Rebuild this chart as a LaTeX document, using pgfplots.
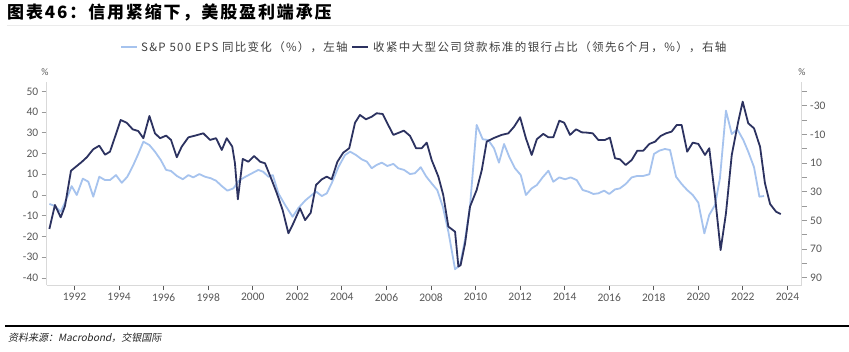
\documentclass[border=0pt]{standalone}
\usepackage{fontspec}
\setmainfont{Carlito}
\newfontfamily\cjk{Noto Sans CJK SC}
\newfontfamily\cjki{Noto Sans CJK SC}[FakeSlant=0.2]
\usepackage{pgfplots}
\pgfplotsset{compat=1.18}
\definecolor{dk}{HTML}{2C3260}
\definecolor{lt}{HTML}{A6C3EE}
\definecolor{axc}{HTML}{D9D9D9}
\definecolor{tkc}{HTML}{595959}
\definecolor{lgc}{HTML}{404040}
\begin{document}
\begin{tikzpicture}[x=1pt,y=1pt]
\path[use as bounding box,fill=white] (0,0) rectangle (849,351);
% title
\node[anchor=west,inner sep=0] at (7,339) {\cjk\bfseries\fontsize{17}{18}\selectfont\addfontfeature{LetterSpace=11}图表46：信用紧缩下，美股盈利端承压};
\draw[color=black!8,line width=0.6pt] (7,326) -- (849,326);
% legend
\draw[lt,line width=2pt] (121,304) -- (137,304);
\node[anchor=west,inner sep=0,text=lgc] at (141,304) {\cjk\fontsize{11.5}{13}\selectfont\addfontfeature{LetterSpace=11}S\&P 500 EPS 同比变化（\%），左轴};
\draw[dk,line width=2pt] (352,304) -- (368,304);
\node[anchor=west,inner sep=0,text=lgc] at (373,304) {\cjk\fontsize{11.5}{13}\selectfont\addfontfeature{LetterSpace=12}收紧中大型公司贷款标准的银行占比（领先6个月，\%），右轴};
% unit labels
\node[text=tkc,inner sep=0] at (45,279) {\fontsize{10}{11}\selectfont\%};
\node[text=tkc,inner sep=0] at (802,279) {\fontsize{10}{11}\selectfont\%};
% bottom rule and source
\draw[black,line width=1.2pt] (5,25) -- (849,25);
\node[anchor=west,inner sep=0,text=black!85] at (8,13) {\cjki\fontsize{10}{11}\selectfont 资料来源：Macrobond，交银国际};

\begin{axis}[
  at={(46.7pt,66pt)}, anchor=south west,
  scale only axis, width=755pt, height=203pt,
  xmin=1990.75, xmax=2024.64,
  ymin=-43.4, ymax=54.5,
  axis x line=bottom, axis y line=left,
  axis line style={axc,line width=0.8pt,-},
  xtick={1992,1994,...,2024},
  ytick={-40,-30,...,50},
  tick align=outside,
  major tick length=5pt,
  xtick style={tkc,line width=0.8pt},
  ytick style={black!40,line width=0.8pt},
  ticklabel style={font=\fontsize{11.5}{12}\selectfont,text=tkc},
  /pgf/number format/1000 sep={},
  /pgf/number format/assume math mode=true,
  clip=false,
]
\addplot[lt,line width=1.8pt,line join=round] coordinates {
(1990.87,-4.3)(1991.12,-5.3)(1991.38,-8.1)(1991.62,-2.4)(1991.87,4.3)(1992.10,0.0)
(1992.37,7.9)(1992.62,6.4)(1992.84,-0.8)(1993.11,8.8)(1993.37,7.2)(1993.59,7.2)
(1993.86,9.6)(1994.12,5.9)(1994.37,8.8)(1994.64,14.5)(1994.86,19.8)(1995.09,25.7)
(1995.36,24.1)(1995.61,20.9)(1995.87,16.9)(1996.11,12.1)(1996.33,11.6)(1996.59,9.2)
(1996.86,7.6)(1997.11,9.6)(1997.33,8.5)(1997.60,10.1)(1997.86,8.8)(1998.11,8.1)
(1998.35,6.9)(1998.61,4.3)(1998.86,2.1)(1999.13,3.2)(1999.38,6.9)(1999.62,8.5)
(1999.88,10.0)(2000.25,12.1)(2000.47,11.2)(2000.70,8.8)(2000.90,9.6)(2001.15,0.8)
(2001.45,-4.8)(2001.79,-10.5)(2002.04,-6.4)(2002.35,-2.7)(2002.65,0.0)(2002.85,1.6)
(2003.10,-0.5)(2003.32,0.8)(2003.54,5.6)(2003.84,13.4)(2004.14,19.3)(2004.37,20.9)
(2004.63,19.3)(2004.89,17.2)(2005.12,16.1)(2005.34,12.9)(2005.56,14.5)(2005.79,15.6)
(2006.04,14.0)(2006.31,15.0)(2006.53,12.9)(2006.79,12.1)(2007.06,10.1)(2007.28,10.5)
(2007.54,13.4)(2007.78,9.0)(2008.03,5.6)(2008.28,2.4)(2008.53,-5.6)(2008.78,-17.7)
(2009.08,-35.8)(2009.30,-33.8)(2009.53,-21.4)(2009.75,-5.6)(2010.05,33.8)(2010.32,26.9)
(2010.57,26.5)(2010.83,22.5)(2011.05,15.6)(2011.28,24.6)(2011.52,18.2)(2011.77,12.9)
(2012.03,9.6)(2012.26,0.0)(2012.52,3.2)(2012.75,4.8)(2013.01,8.5)(2013.27,11.7)
(2013.49,6.4)(2013.76,8.5)(2014.02,7.6)(2014.27,8.5)(2014.54,7.2)(2014.81,2.4)
(2015.06,1.6)(2015.29,0.5)(2015.51,0.8)(2015.77,2.1)(2016.00,0.5)(2016.26,2.7)
(2016.48,3.2)(2016.74,5.3)(2017.01,8.5)(2017.26,9.2)(2017.53,9.2)(2017.80,10.0)
(2018.01,19.8)(2018.25,21.4)(2018.50,22.2)(2018.73,21.7)(2019.00,8.8)(2019.25,5.3)
(2019.50,2.4)(2019.75,0.0)(2020.00,-3.7)(2020.27,-18.5)(2020.49,-9.6)(2020.75,-4.8)
(2020.97,8.1)(2021.24,40.7)(2021.50,29.4)(2021.75,31.7)(2022.02,26.5)(2022.24,20.9)
(2022.50,13.4)(2022.74,-0.8)(2022.95,-0.5)
};
\end{axis}

\begin{axis}[
  at={(46.7pt,66pt)}, anchor=south west,
  scale only axis, width=755pt, height=203pt,
  xmin=1990.75, xmax=2024.64,
  ymin=-46.5, ymax=95.1, y dir=reverse,
  axis x line=none, axis y line=right,
  axis line style={axc,line width=0.8pt,-},
  ytick={-40,-30,...,90},
  yticklabels={,-30,,-10,,10,,30,,50,,70,,90},
  tick align=outside,
  major tick length=5pt,
  ytick style={black!40,line width=0.8pt},
  ticklabel style={font=\fontsize{11.5}{12}\selectfont,text=tkc},
  clip=false,
]
\addplot[dk,line width=1.8pt,line join=round] coordinates {
(1990.87,56.0)(1991.12,39.3)(1991.38,47.9)(1991.57,40.0)(1991.84,15.4)(1992.10,12.1)
(1992.32,9.3)(1992.55,6.0)(1992.84,0.4)(1993.11,-2.1)(1993.37,4.2)(1993.59,2.1)
(1993.82,-8.4)(1994.07,-20.0)(1994.34,-18.1)(1994.61,-13.5)(1994.86,-12.3)(1995.09,-7.3)
(1995.36,-22.8)(1995.61,-10.7)(1995.84,-7.3)(1996.11,-9.1)(1996.33,-6.1)(1996.59,6.0)
(1996.81,-1.4)(1997.11,-7.9)(1997.41,-9.1)(1997.78,-10.7)(1998.08,-6.1)(1998.35,-7.3)
(1998.61,0.9)(1998.83,-7.3)(1999.08,-1.4)(1999.20,10.2)(1999.33,35.3)(1999.55,7.2)
(1999.80,9.1)(2000.06,5.1)(2000.33,9.1)(2000.55,10.2)(2000.85,21.8)(2001.08,31.1)
(2001.34,42.8)(2001.60,59.0)(2001.82,52.1)(2002.12,41.6)(2002.35,49.8)(2002.60,44.7)
(2002.84,25.3)(2003.10,21.4)(2003.32,19.5)(2003.54,21.4)(2003.80,9.1)(2004.06,2.8)
(2004.33,-0.3)(2004.59,-18.1)(2004.81,-23.5)(2005.08,-20.5)(2005.34,-22.3)(2005.56,-24.7)
(2005.83,-24.2)(2006.08,-16.5)(2006.31,-9.6)(2006.57,-11.2)(2006.78,-12.6)(2007.06,-8.9)
(2007.33,-0.3)(2007.58,-0.3)(2007.81,-4.2)(2008.03,7.9)(2008.33,19.5)(2008.55,32.3)
(2008.78,54.4)(2009.08,57.9)(2009.23,82.3)(2009.33,81.2)(2009.53,66.0)(2009.75,40.5)
(2010.05,28.8)(2010.28,14.9)(2010.50,-4.9)(2010.80,-7.3)(2011.17,-9.6)(2011.47,-10.7)
(2011.73,-15.3)(2012.00,-21.9)(2012.26,-7.3)(2012.52,4.4)(2012.75,-6.6)(2013.04,-10.3)
(2013.27,-7.9)(2013.49,-7.9)(2013.76,-19.5)(2013.98,-18.1)(2014.24,-9.6)(2014.51,-13.5)
(2014.77,-11.4)(2014.99,-11.2)(2015.26,-10.7)(2015.51,-6.1)(2015.81,-6.1)(2016.03,-7.7)
(2016.26,6.7)(2016.48,7.4)(2016.74,11.4)(2017.01,7.9)(2017.26,1.4)(2017.53,1.4)
(2017.80,-3.3)(2018.06,-4.9)(2018.31,-8.9)(2018.55,-10.7)(2018.80,-11.9)(2019.03,-16.5)
(2019.25,-16.5)(2019.50,2.1)(2019.75,-4.2)(2020.00,-3.3)(2020.30,4.4)(2020.49,-0.3)
(2020.75,33.5)(2021.00,70.7)(2021.24,45.1)(2021.50,4.4)(2021.79,-18.8)(2021.99,-32.8)
(2022.24,-17.7)(2022.50,-14.2)(2022.77,-1.4)(2022.99,24.1)(2023.22,38.6)(2023.49,44.0)
(2023.70,45.6)
};
\end{axis}
\end{tikzpicture}
\end{document}
